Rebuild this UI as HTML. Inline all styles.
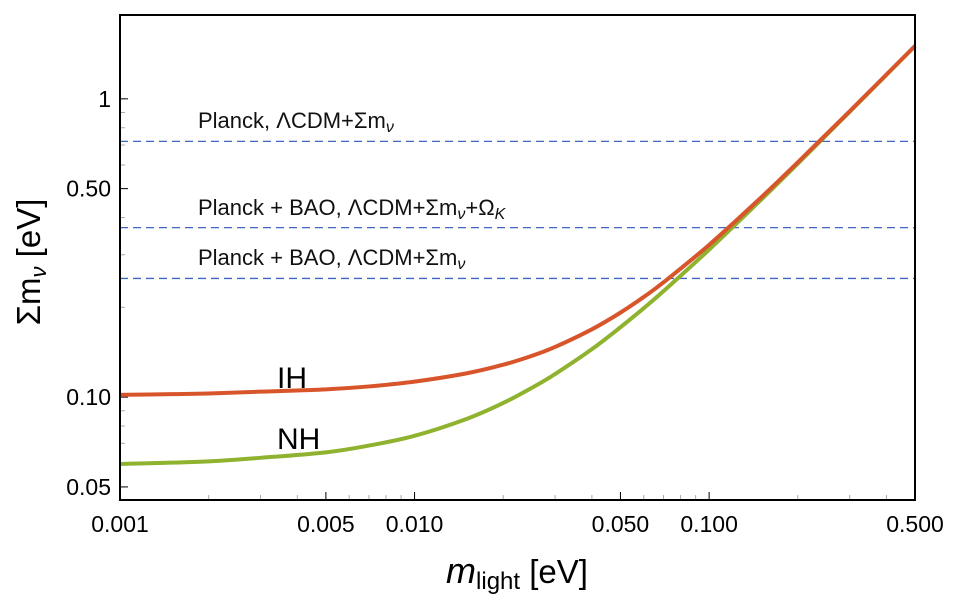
<!DOCTYPE html>
<html><head><meta charset="utf-8"><style>
html,body{margin:0;padding:0;background:#fff;}
svg{display:block;font-family:"Liberation Sans",sans-serif;}
</style></head><body>
<svg id="chart" width="957" height="598" viewBox="0 0 957 598" xmlns="http://www.w3.org/2000/svg">
<g id="grid"></g>
</svg>
<script>
const xValues = [0.001,0.0015,0.002,0.003,0.005,0.007,0.01,0.015,0.02,0.025,0.03,0.04,0.05,0.06,0.07,0.1,0.15,0.2,0.3,0.5];
const nhValues = [0.0597,0.0603,0.0609,0.0626,0.0653,0.0688,0.0742,0.0845,0.0956,0.1074,0.1195,0.1448,0.1715,0.1987,0.2266,0.3122,0.4584,0.6063,0.9043,1.5026];
const ihValues = [0.1018,0.1023,0.1028,0.1043,0.1062,0.1086,0.1127,0.1201,0.1284,0.1375,0.1473,0.1688,0.1920,0.2167,0.2425,0.3240,0.4665,0.6125,0.9084,1.5051];
const boundValues = [0.72,0.37,0.25];
const boundLabels = ["Planck, ΛCDM+Σm<sub>ν</sub>","Planck + BAO, ΛCDM+Σm<sub>ν</sub>+Ω<sub>K</sub>","Planck + BAO, ΛCDM+Σm<sub>ν</sub>"];
const xTicks = [0.001,0.005,0.010,0.050,0.100,0.500];
const xTickLabels = ["0.001","0.005","0.010","0.050","0.100","0.500"];
const yTicks = [0.05,0.10,0.50,1];
const yTickLabels = ["0.05","0.10","0.50","1"];

const L=120,R=915,T=15,B=500;
const xMin=0.001,xMax=0.5,yMin=0.0452,yMax=1.91;
const lg=Math.log10;
const xs=v=>L+(lg(v)-lg(xMin))/(lg(xMax)-lg(xMin))*(R-L);
const ys=v=>B-(lg(v)-lg(yMin))/(lg(yMax)-lg(yMin))*(B-T);
const svg=document.getElementById('chart');
const NS='http://www.w3.org/2000/svg';
function mk(tag,attrs){const e=document.createElementNS(NS,tag);for(const k in attrs)e.setAttribute(k,attrs[k]);svg.appendChild(e);return e;}

for(let d=-3;d<=0;d++)for(let k=1;k<10;k++){const v=k*Math.pow(10,d);
 if(v>=xMin&&v<=xMax){const major=xTicks.some(t=>Math.abs(t-v)<1e-9);const x=xs(v);
  const t=mk('line',{x1:x,x2:x,y1:B,y2:B-(major?8:5),stroke:major?'#000':'#aaa','stroke-width':1});
  }
 if(v>=yMin&&v<=yMax){const major=yTicks.some(t=>Math.abs(t-v)<1e-9);const y=ys(v);
  const t=mk('line',{x1:L,x2:L+(major?8:5),y1:y,y2:y,stroke:major?'#000':'#aaa','stroke-width':1});
  }}

xTicks.forEach((v,i)=>{const t=mk('text',{x:xs(v),y:532,'text-anchor':'middle','font-size':23});t.textContent=xTickLabels[i];
 });
yTicks.forEach((v,i)=>{const t=mk('text',{x:111,y:ys(v)+8,'text-anchor':'end','font-size':23});t.textContent=yTickLabels[i];
 });

boundValues.forEach((v,i)=>{const y=ys(v);
 const l=mk('line',{x1:L,x2:R,y1:y,y2:y,stroke:'#3f66c0','stroke-width':1.3,'stroke-dasharray':'8,5'});
 
 const f=mk('foreignObject',{x:198,y:y-36,width:560,height:34});
 
 f.innerHTML='<div xmlns="http://www.w3.org/1999/xhtml" style="font-family:Liberation Sans,sans-serif;font-size:22px;line-height:32px;color:#111;white-space:nowrap">'+boundLabels[i].replace(/<sub>/g,'<sub style="font-size:16px;font-style:italic;vertical-align:-4px">')+'</div>';});

function pathFor(vals){const P=xValues.map((x,i)=>[xs(x),ys(vals[i])]);let d='M'+P[0][0]+','+P[0][1];
 for(let i=0;i<P.length-1;i++){const p0=P[Math.max(0,i-1)],p1=P[i],p2=P[i+1],p3=P[Math.min(P.length-1,i+2)];
  d+=' C'+(p1[0]+(p2[0]-p0[0])/6)+','+(p1[1]+(p2[1]-p0[1])/6)+' '+(p2[0]-(p3[0]-p1[0])/6)+','+(p2[1]-(p3[1]-p1[1])/6)+' '+p2[0]+','+p2[1];}return d;}
const nh=mk('path',{d:pathFor(nhValues),fill:'none',stroke:'#8fb22f','stroke-width':4});

const ih=mk('path',{d:pathFor(ihValues),fill:'none',stroke:'#d8552c','stroke-width':4});


const t1=mk('text',{x:277,y:388,'font-size':30});t1.textContent='IH';

const t2=mk('text',{x:277,y:449,'font-size':30});t2.textContent='NH';


const fr=mk('rect',{x:L,y:T,width:R-L,height:B-T,fill:'none',stroke:'#000','stroke-width':2});


const xt=mk('text',{x:517,y:583,'text-anchor':'middle','font-size':33});
xt.innerHTML='<tspan font-style="italic" font-size="36">m</tspan><tspan font-size="24" dy="6">light</tspan><tspan dy="-6"> [eV]</tspan>';

const yt=mk('text',{x:0,y:0,'text-anchor':'middle','font-size':33,transform:'translate(40,262) rotate(-90)'});
yt.innerHTML='Σm<tspan font-size="22" font-style="italic" dy="6">ν</tspan><tspan dy="-6"> [eV]</tspan>';

</script>
</body></html>
